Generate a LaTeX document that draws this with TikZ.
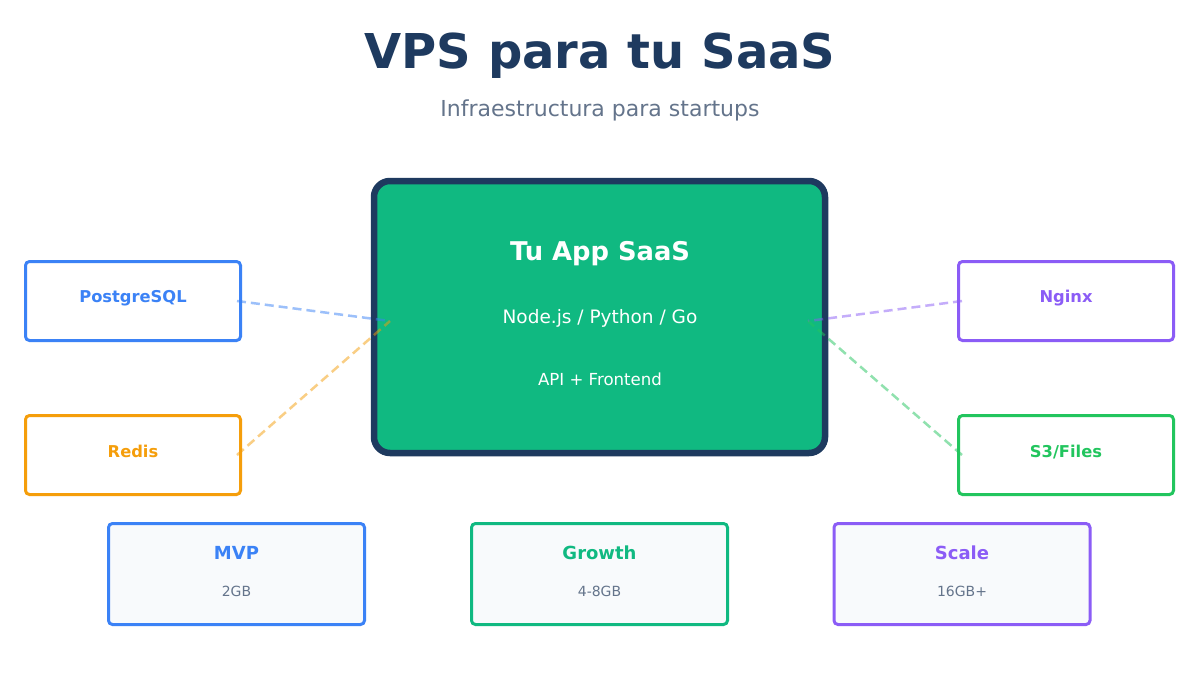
\documentclass[tikz,border=0pt]{standalone}
\usepackage{fontspec}
\setmainfont{DejaVu Sans}
\usepackage{xcolor}
\usepackage{tikz}
\usetikzlibrary{positioning}

\definecolor{navy}{HTML}{1E3A5F}
\definecolor{slate}{HTML}{64748B}
\definecolor{appgreen}{HTML}{10B981}
\definecolor{pgblue}{HTML}{3B82F6}
\definecolor{redisorange}{HTML}{F59E0B}
\definecolor{nginxpurple}{HTML}{8B5CF6}
\definecolor{filesgreen}{HTML}{22C55E}
\definecolor{tierbg}{HTML}{F8FAFC}
\newcommand{\fsz}[1]{\fontsize{#1}{#1}\selectfont}

\begin{document}
\begin{tikzpicture}[x=1pt,y=-1pt,
  svc/.style={draw=#1,line width=3pt,rounded corners=4pt,fill=white,
    minimum width=215pt,minimum height=79pt},
  svclabel/.style={anchor=base,text=#1,font=\fsz{16.3}\bfseries},
  tier/.style={draw=#1,line width=3pt,rounded corners=4pt,fill=tierbg,
    minimum width=256pt,minimum height=101pt},
  tierlabel/.style={anchor=base,text=#1,font=\fsz{18}\bfseries},
  tiersize/.style={anchor=base,text=slate,font=\fsz{14}},
  link/.style={draw=#1,line width=2.5pt,dash pattern=on 9pt off 5pt,opacity=0.5}]
  \useasboundingbox[fill=white] (0,0) rectangle (1200,675);
  % Title
  \node[anchor=base,text=navy,font=\fsz{48}\bfseries] (title) at (600,68) {VPS para tu SaaS};
  \node[anchor=base,text=slate,font=\fsz{22}] (subtitle) at (600,116) {Infraestructura para startups};
  % Central app
  \node[draw=navy,line width=6.5pt,rounded corners=16pt,fill=appgreen,
    minimum width=451pt,minimum height=272pt] (app) at (599.5,317) {};
  \node[anchor=base,text=white,font=\fsz{25.8}\bfseries] (appname) at (600,260) {Tu App SaaS};
  \node[anchor=base,text=white,font=\fsz{18.5}] (appstack) at (600,323) {Node.js / Python / Go};
  \node[anchor=base,text=white,font=\fsz{16.6}] (appparts) at (600,385) {API + Frontend};
  \coordinate (hubL) at (390,321);
  \coordinate (hubR) at (808,321);
  % Services
  \node[svc=pgblue] (pg) at (133,301) {};
  \node[svclabel=pgblue] (pglabel) at (133,302) {PostgreSQL};
  \node[svc=redisorange] (redis) at (133,455) {};
  \node[svclabel=redisorange] (redislabel) at (133,457) {Redis};
  \node[svc=nginxpurple] (nginx) at (1066,301) {};
  \node[svclabel=nginxpurple] (nginxlabel) at (1066,302) {Nginx};
  \node[svc=filesgreen] (files) at (1066,455) {};
  \node[svclabel=filesgreen] (fileslabel) at (1066,457) {S3/Files};
  % Links
  \draw[link=pgblue] ([xshift=-5pt]pg.east) -- (hubL);
  \draw[link=redisorange] ([xshift=-5pt]redis.east) -- (hubL);
  \draw[link=nginxpurple] ([xshift=5pt]nginx.west) -- (hubR);
  \draw[link=filesgreen] ([xshift=5pt]files.west) -- (hubR);
  % Plans
  \node[tier=pgblue] (mvp) at (236.5,574) {};
  \node[tierlabel=pgblue] (mvplabel) at (236.5,559) {MVP};
  \node[tiersize] (mvpsize) at (236.5,596) {2GB};
  \node[tier=appgreen] (growth) at (599.5,574) {};
  \node[tierlabel=appgreen] (growthlabel) at (599.5,559) {Growth};
  \node[tiersize] (growthsize) at (599.5,596) {4-8GB};
  \node[tier=nginxpurple] (scale) at (962,574) {};
  \node[tierlabel=nginxpurple] (scalelabel) at (962,559) {Scale};
  \node[tiersize] (scalesize) at (962,596) {16GB+};
\end{tikzpicture}
\end{document}
